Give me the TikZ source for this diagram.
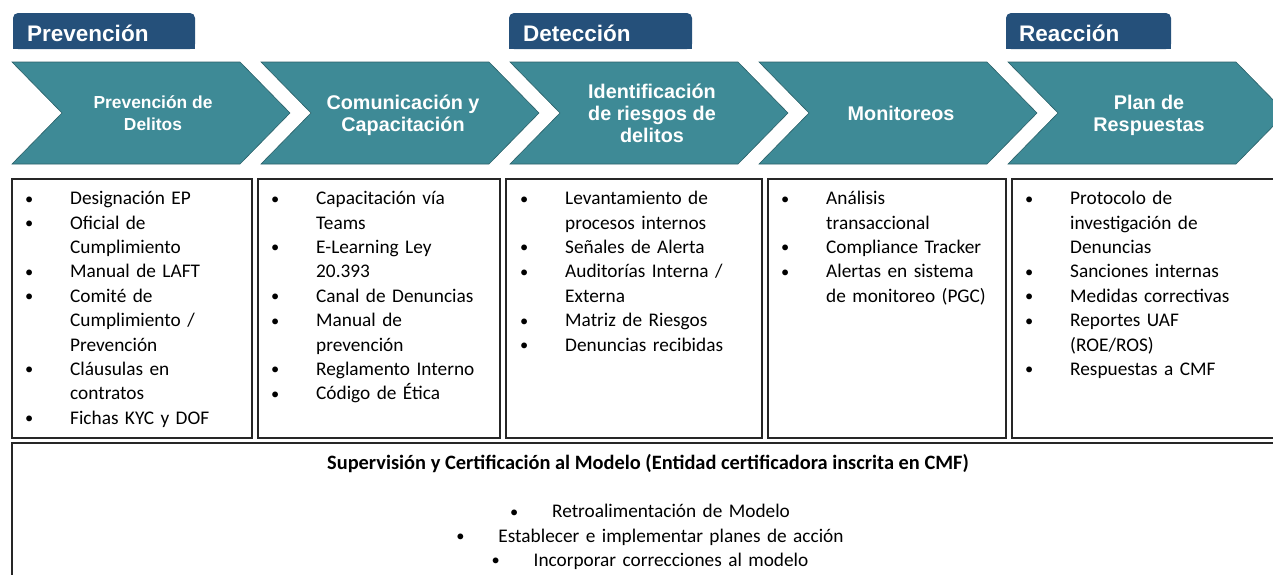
\documentclass[tikz,border=0pt]{standalone}
\usepackage{fontspec}
\setmainfont{Carlito}
\newfontfamily\arialfont{Liberation Sans}
\definecolor{hdrblue}{RGB}{37,80,122}
\definecolor{chevteal}{RGB}{62,138,150}
\tikzset{
  hdr/.style={fill=hdrblue},
  hdrlabel/.style={text=white,font=\arialfont\bfseries\fontsize{22.5}{26}\selectfont,anchor=base west,inner sep=0pt},
  chev/.style={fill=chevteal,draw=chevteal!70!black,line width=0.6pt},
  chevlabel/.style={text=white,font=\arialfont\bfseries\fontsize{19.8}{22}\selectfont,align=center,inner sep=0pt},
  panel/.style={draw=black!85,line width=1.2pt},
  itemlist/.style={anchor=north west,inner sep=0pt,text width=260pt,font=\fontsize{19.3}{24.4}\selectfont},
}
\newcommand{\smalldot}{\raisebox{0.6pt}{\scalebox{0.85}{\textbullet}}}
\newcommand{\nl}{\hfil\break}
\newcommand{\bul}[1]{\par\hangindent=45pt\hangafter=1\noindent\strut\makebox[45pt][l]{\smalldot}#1\hfil\par}
\newcommand{\cbul}[1]{\strut\makebox[42pt][l]{\smalldot}#1}
\begin{document}
\begin{tikzpicture}[x=1pt,y=-1pt]
\useasboundingbox (0,0) rectangle (1273,574);
\clip (0,0) rectangle (1273,574);
% phase headers
\fill[hdr,rounded corners=5pt] (13,13) rectangle (195,49);
\fill[hdr] (13,30) rectangle (195,49);
\fill[hdr,rounded corners=5pt] (509,13) rectangle (692,49);
\fill[hdr] (509,30) rectangle (692,49);
\fill[hdr,rounded corners=5pt] (1006,13) rectangle (1171,49);
\fill[hdr] (1006,30) rectangle (1171,49);
\node[hdrlabel] (hPrev) at (27,41) {Prevención};
\node[hdrlabel] (hDet) at (523,41) {Detección};
\node[hdrlabel] (hReac) at (1019,41) {Reacción};
% chevrons
\foreach \x in {12,261,510,759,1008}
  \draw[chev] (\x,62) -- ({\x+228},62) -- ({\x+278},113) -- ({\x+228},164) -- (\x,164) -- ({\x+50},113) -- cycle;
\node[chevlabel,font=\arialfont\bfseries\fontsize{17.4}{22}\selectfont] (cPrev) at (153,113) {Prevención de\\Delitos};
\node[chevlabel] (cCom) at (403,115) {Comunicación y\\Capacitación};
\node[chevlabel] (cIde) at (652,113) {Identificación\\de riesgos de\\delitos};
\node[chevlabel] (cMon) at (901,113) {Monitoreos};
\node[chevlabel] (cPlan) at (1149,115) {Plan de\\Respuestas};
% panels
\draw[panel] (12,179) rectangle (252,438);
\draw[panel] (258,179) rectangle (500,438);
\draw[panel] (506,179) rectangle (762,438);
\draw[panel] (768,179) rectangle (1006,438);
\draw[panel] (1012,179) rectangle (1290,438);
\draw[panel] (12,443) rectangle (1290,600);
% lists
\node[itemlist] (lPrev) at (25,180) {\bul{Designación EP}\bul{Oficial de\nl Cumplimiento}\bul{Manual de LAFT}\bul{Comité de\nl Cumplimiento /\nl Prevención}\bul{Cláusulas en\nl contratos}\bul{Fichas KYC y DOF}};
\node[itemlist] (lCom) at (271,180) {\bul{Capacitación vía\nl Teams}\bul{E-Learning Ley\nl 20.393}\bul{Canal de Denuncias}\bul{Manual de\nl prevención}\bul{Reglamento Interno}\bul{Código de Ética}};
\node[itemlist] (lIde) at (520,180) {\bul{Levantamiento de\nl procesos internos}\bul{Señales de Alerta}\bul{Auditorías Interna /\nl Externa}\bul{Matriz de Riesgos}\bul{Denuncias recibidas}};
\node[itemlist] (lMon) at (781,180) {\bul{Análisis\nl transaccional}\bul{Compliance Tracker}\bul{Alertas en sistema\nl de monitoreo (PGC)}};
\node[itemlist] (lPlan) at (1025,180) {\bul{Protocolo de\nl investigación de\nl Denuncias}\bul{Sanciones internas}\bul{Medidas correctivas}\bul{Reportes UAF\nl (ROE/ROS)}\bul{Respuestas a CMF}};
% supervision
\node[anchor=base,inner sep=0pt,font=\bfseries\fontsize{20.4}{24.4}\selectfont] (sTitle) at (648,469) {Supervisión y Certificación al Modelo (Entidad certificadora inscrita en CMF)};
\node[anchor=north,inner sep=0pt,text width=700pt,align=center,font=\fontsize{19.3}{24.4}\selectfont] (sList) at (650,500.5) {\cbul{Retroalimentación de Modelo}\\\cbul{Establecer e implementar planes de acción}\\\cbul{Incorporar correcciones al modelo}};
\end{tikzpicture}
\end{document}
